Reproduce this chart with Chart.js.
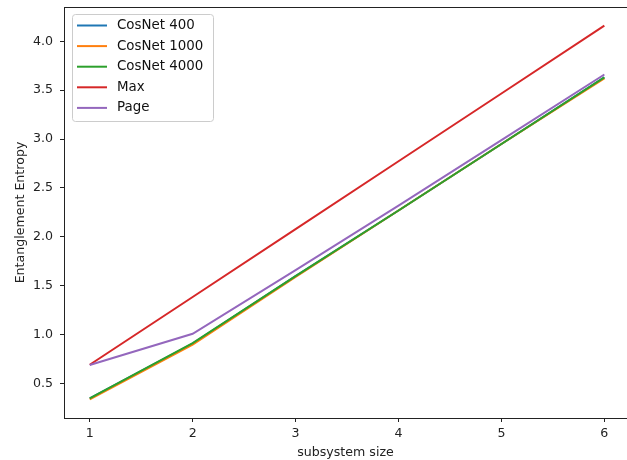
<!DOCTYPE html>
<html>
<head>
<meta charset="utf-8">
<script src="https://cdn.jsdelivr.net/npm/chart.js@4/dist/chart.umd.min.js"></script>
<style>
  body { margin: 0; background: #fff; }
</style>
</head>
<body>
<canvas id="chart" width="627" height="460"></canvas>
<script>
const sizes = [1, 2, 3, 4, 5, 6]
const cosnet400 = [0.35, 0.91, 1.60, 2.27, 2.95, 3.63]
const cosnet1000 = [0.34, 0.90, 1.59, 2.27, 2.95, 3.62]
const cosnet4000 = [0.35, 0.915, 1.60, 2.27, 2.95, 3.63]
const maxEntropy = [0.693, 1.386, 2.079, 2.773, 3.466, 4.159]
const page = [0.69, 1.01, 1.66, 2.32, 2.99, 3.66]
const seriesNames = ['CosNet 400', 'CosNet 1000', 'CosNet 4000', 'Max', 'Page']
const xTicks = [1, 2, 3, 4, 5, 6]
const yTicks = [0.5, 1.0, 1.5, 2.0, 2.5, 3.0, 3.5, 4.0]

const colors = ['#1f77b4', '#ff7f0e', '#2ca02c', '#d62728', '#9467bd']
const font = { family: 'DejaVu Sans', size: 12.6 }

function toPoints (ys) {
  return sizes.map((x, i) => ({ x: x, y: ys[i] }))
}

// matplotlib style box round the plot area
const frame = {
  id: 'frame',
  afterDatasetsDraw (chart) {
    const { ctx, chartArea } = chart
    ctx.save()
    ctx.strokeStyle = '#222'
    ctx.lineWidth = 1
    ctx.strokeRect(chartArea.left + 0.5, chartArea.top + 0.5,
      chartArea.right - chartArea.left, chartArea.bottom - chartArea.top)
    ctx.restore()
  }
}

// legend inside the axes, upper left
const innerLegend = {
  id: 'innerLegend',
  afterDraw (chart) {
    const ctx = chart.ctx
    const x0 = 72.5, y0 = 14.5, w = 141, h = 107, r = 3
    ctx.save()
    ctx.beginPath()
    ctx.roundRect(x0, y0, w, h, r)
    ctx.fillStyle = 'rgba(255,255,255,0.8)'
    ctx.fill()
    ctx.strokeStyle = '#cccccc'
    ctx.lineWidth = 1
    ctx.stroke()
    ctx.font = '13.4px "DejaVu Sans"'
    ctx.textBaseline = 'middle'
    chart.data.datasets.forEach((ds, i) => {
      const y = 25.5 + i * 20.6
      ctx.beginPath()
      ctx.moveTo(77, y)
      ctx.lineTo(107, y)
      ctx.strokeStyle = ds.borderColor
      ctx.lineWidth = 2
      ctx.stroke()
      ctx.fillStyle = '#111'
      ctx.fillText(ds.label, 117, y)
    })
    ctx.restore()
  }
}

const seriesData = [cosnet400, cosnet1000, cosnet4000, maxEntropy, page]

const chart = new Chart(document.getElementById('chart'), {
  type: 'line',
  data: {
    datasets: seriesData.map((ys, i) => ({
      label: seriesNames[i],
      data: toPoints(ys),
      borderColor: colors[i],
      backgroundColor: colors[i],
      borderWidth: 2,
      pointRadius: 0,
      tension: 0,
      fill: false,
      order: seriesData.length - i   // later series on top, like matplotlib
    }))
  },
  options: {
    responsive: false,
    animation: false,
    layout: { padding: { top: 7, right: 0, left: 0, bottom: 0 } },
    plugins: {
      legend: { display: false },
      tooltip: { enabled: false }
    },
    scales: {
      x: {
        type: 'linear',
        min: 0.75,
        max: 6.22,
        afterBuildTicks: (scale) => { scale.ticks = xTicks.map(v => ({ value: v })) },
        afterFit: (scale) => {
          scale.height = 42
          scale.paddingLeft = 0
          scale.paddingRight = 0
        },
        grid: { display: true, drawOnChartArea: false, drawTicks: true, tickLength: 4, color: '#222' },
        border: { display: true, color: '#222', width: 1 },
        ticks: { font: font, color: '#222', padding: 4, maxRotation: 0, callback: (v) => String(v) },
        title: { display: true, text: 'subsystem size', font: font, color: '#222', padding: { top: 0, bottom: 0 } }
      },
      y: {
        type: 'linear',
        min: 0.149,
        max: 4.35,
        afterBuildTicks: (scale) => { scale.ticks = yTicks.map(v => ({ value: v })) },
        afterFit: (scale) => {
          scale.width = 64
          scale.paddingTop = 0
          scale.paddingBottom = 0
        },
        grid: { display: true, drawOnChartArea: false, drawTicks: true, tickLength: 4, color: '#222' },
        border: { display: true, color: '#222', width: 1 },
        ticks: { font: font, color: '#222', padding: 7, callback: (v) => Number(v).toFixed(1) },
        title: { display: true, text: 'Entanglement Entropy', font: font, color: '#222', padding: { top: 13, bottom: 0 } }
      }
    }
  },
  plugins: [frame, innerLegend]
})
</script>
</body>
</html>
